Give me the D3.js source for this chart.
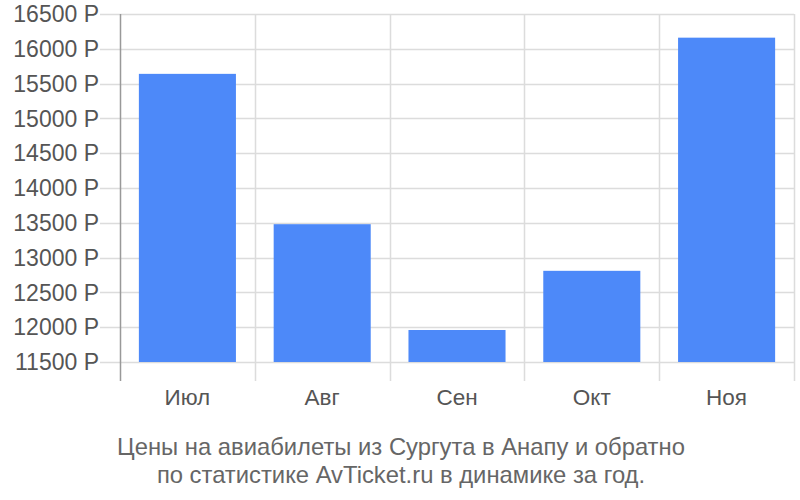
<!DOCTYPE html>
<html><head><meta charset="utf-8">
<script src="https://cdn.jsdelivr.net/npm/d3@7"></script>
<style>body{margin:0;background:#fff}svg{display:block}</style>
</head><body>
<svg id="c" width="800" height="500"></svg>
<script>
const categories = ["Июл","Авг","Сен","Окт","Ноя"];
const values = [15640, 13480, 11960, 12810, 16160];
const yTicks = [11500,12000,12500,13000,13500,14000,14500,15000,15500,16000,16500];
const titleLines = ["Цены на авиабилеты из Сургута в Анапу и обратно","по статистике AvTicket.ru в динамике за год."];

const svg = d3.select("#c");
const L=120, R=794, T=14, B=362;
const font = "'Liberation Sans', Arial, sans-serif";
const x = d3.scaleBand().domain(categories).range([L,R]).paddingInner(0.28).paddingOuter(0.14);
const y = d3.scaleLinear().domain([11500,16500]).range([B,T]);

// horizontal grid
svg.append("g").selectAll("line").data(yTicks).join("line")
  .attr("x1",100).attr("x2",R).attr("y1",d=>Math.round(y(d))+0.5).attr("y2",d=>Math.round(y(d))+0.5)
  .attr("stroke","#dcdcdc").attr("stroke-width",1.5);
// vertical grid at band boundaries
const bounds = d3.range(categories.length+1).map(i=>L+i*(R-L)/categories.length);
svg.append("g").selectAll("line").data(bounds.slice(1)).join("line")
  .attr("x1",d=>Math.round(d)+0.5).attr("x2",d=>Math.round(d)+0.5).attr("y1",T).attr("y2",381)
  .attr("stroke","#dcdcdc").attr("stroke-width",1.5);

// bars
svg.append("g").selectAll("rect").data(values).join("rect")
  .attr("x",(d,i)=>x(categories[i])).attr("width",x.bandwidth())
  .attr("y",d=>y(d)).attr("height",d=>B-y(d)).attr("fill","#4d89f9");

// left axis line
svg.append("line").attr("x1",L+0.5).attr("x2",L+0.5).attr("y1",T).attr("y2",381)
  .attr("stroke","#999").attr("stroke-width",1.5);

// y labels
svg.append("g").selectAll("text").data(yTicks).join("text")
  .attr("x",99).attr("y",d=>y(d)).attr("dy","0.36em").attr("text-anchor","end")
  .attr("font-family",font).attr("font-size",23).attr("fill","#555")
  .text(d=>d+" Р");

// x labels
svg.append("g").selectAll("text").data(categories).join("text")
  .attr("x",d=>x(d)+x.bandwidth()/2).attr("y",405).attr("text-anchor","middle")
  .attr("font-family",font).attr("font-size",22.5).attr("fill","#555").text(d=>d);

// title
svg.append("g").selectAll("text").data(titleLines).join("text")
  .attr("x",401).attr("y",(d,i)=>455+i*28).attr("text-anchor","middle")
  .attr("font-family",font).attr("font-size",23.8).attr("fill","#666").text(d=>d);
</script>
</body></html>
